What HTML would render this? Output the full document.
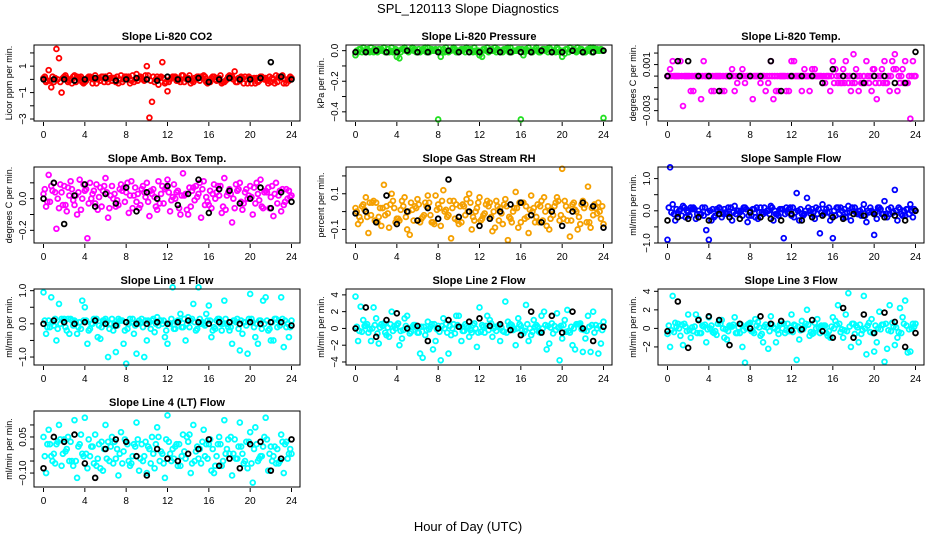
<!DOCTYPE html>
<html><head><meta charset="utf-8"><style>
body{margin:0;background:#fff}
svg{display:block;font-family:"Liberation Sans",sans-serif}
</style></head><body>
<svg id="c" width="936" height="540" viewBox="0 0 936 540">
<text x="468" y="13" text-anchor="middle" font-size="13">SPL_120113  Slope Diagnostics</text>
<text x="468" y="531" text-anchor="middle" font-size="13">Hour of Day (UTC)</text>
</svg>
<script>
const ns="http://www.w3.org/2000/svg";
const svg=document.getElementById('c');
// ---- data (A: t=i*0.5, B: t=i*0.5+0.25, C: t=i*0.5+0.125, D: t=i*0.5+0.375, K (black): t=i) ----
const co2A=[0.1,0.7,-0.2,1.6,0.2,-0.1,0.3,0.1,-0.2,0.2,0.3,-0.1,0.2,0.1,-0.2,0.3,0.2,-0.1,0.4,0.1,1.0,-1.7,0.2,1.3,-0.9,0.2,-0.1,0.3,0.1,-0.2,0.2,0.3,-0.1,0.2,0.1,-0.2,0.3,0.6,-0.1,0.2,0.1,-0.3,0.2,0.1,-0.2,0.3,0.2,-0.3,0.1];
const co2B=[-0.2,-0.6,2.3,-1.0,0.1,-0.3,0.2,-0.2,0.1,-0.3,0.0,0.2,-0.2,0.1,-0.3,0.0,0.2,-0.2,0.1,-0.1,-2.9,-0.2,0.1,-0.3,0.0,0.2,-0.2,0.1,-0.3,0.0,0.2,-0.2,0.1,-0.1,-0.3,0.0,0.2,-0.2,0.1,-0.3,0.0,-0.2,0.1,-0.3,0.0,0.2,-0.3,-0.1];
const co2C=[0.2,-0.1,0.1,-0.2,0.3,0.0,-0.2,0.2,-0.1,0.1,-0.3,0.2,0.0,-0.1,0.2,-0.2,0.1,0.3,-0.1,0.0,0.3,0.2,-0.4,0.1,-0.2,0.2,0.0,-0.2,0.3,0.1,-0.1,0.2,-0.2,0.0,0.3,-0.1,0.1,-0.2,0.2,0.0,-0.3,0.1,0.2,-0.1,0.1,-0.2,0.3,0.0];
const co2D=[-0.1,0.2,0.0,0.1,-0.2,0.2,0.1,-0.3,0.2,0.0,0.1,-0.2,0.3,0.1,0.0,0.2,-0.3,0.0,0.2,0.3,-0.1,0.0,0.2,-0.2,0.1,-0.1,0.3,0.0,-0.1,0.2,0.1,-0.3,0.2,0.1,-0.2,0.2,0.0,0.1,-0.3,0.2,0.1,-0.1,0.0,0.2,-0.3,0.1,0.0,0.2];
const co2K=[0.0,0.0,0.0,-0.1,0.0,0.1,0.1,-0.1,0.0,0.1,0.0,-0.1,0.2,0.0,0.0,0.1,-0.2,0.0,0.1,0.0,0.0,0.1,1.3,0.2,0.0];
const presA=[-0.03,0.01,-0.01,0.02,0.0,0.01,-0.01,0.02,-0.04,0.01,0.0,0.02,-0.01,0.01,0.02,0.0,-0.45,0.01,-0.01,0.02,0.0,0.01,-0.01,0.02,-0.03,0.01,0.0,0.02,-0.01,0.01,0.02,0.0,-0.45,0.01,-0.01,0.02,0.0,0.01,-0.01,0.02,-0.04,0.01,0.0,0.02,-0.01,0.01,0.02,0.0,-0.44];
const presB=[-0.01,0.02,0.0,-0.01,0.01,0.02,-0.01,0.0,-0.05,0.02,0.0,0.01,-0.01,0.02,0.0,0.01,-0.04,0.02,0.0,-0.01,0.01,0.02,0.0,-0.01,-0.04,0.02,0.0,0.01,-0.01,0.02,0.0,0.01,-0.03,0.02,0.0,-0.01,0.01,0.02,0.0,-0.01,-0.02,0.02,0.0,0.01,-0.01,0.02,0.0,0.01];
const presC=[0.0,-0.01,0.01,0.0,-0.01,0.0,0.01,-0.01,0.0,0.01,-0.01,0.0,0.01,0.0,-0.01,0.0,0.01,-0.01,0.0,0.01,0.0,-0.01,0.01,0.0,-0.01,0.0,0.01,-0.01,0.0,0.01,-0.01,0.0,0.01,0.0,-0.01,0.0,0.01,-0.01,0.0,0.01,0.0,-0.01,0.01,0.0,-0.01,0.0,0.01,0.0];
const presD=[0.01,0.0,-0.01,0.01,0.0,-0.01,0.0,0.01,-0.01,0.0,0.01,-0.01,0.0,-0.01,0.01,0.0,-0.01,0.0,0.01,-0.01,0.0,0.01,-0.01,0.0,0.01,-0.01,0.0,0.0,0.01,-0.01,0.0,0.01,-0.01,0.0,0.01,-0.01,0.0,0.01,-0.01,0.0,0.01,0.0,-0.01,0.01,0.0,-0.01,0.01,0.0];
const presK=[-0.01,-0.01,0.0,-0.01,-0.01,0.0,-0.01,-0.01,-0.01,0.0,-0.01,-0.01,-0.01,0.0,-0.01,-0.01,-0.01,-0.01,0.0,-0.01,-0.01,0.0,-0.01,-0.01,0.0];
const tmpA=[0,0.0013,0,-0.0026,0,-0.0013,0,0.0013,0,-0.0013,0,-0.0013,0,-0.0013,0,-0.0006,0,0,-0.0006,-0.0013,0.0013,-0.0013,0,-0.0013,0.0013,0,-0.0013,0,0.0006,0,-0.0006,0,0.0013,-0.0006,0.0006,-0.0006,0.0019,-0.0013,0,-0.0006,0.0006,-0.0006,0.0013,-0.0013,0.0019,-0.0006,0.0013,-0.0037,0];
const tmpB=[0.0006,0,0.0013,0,-0.0013,0,-0.002,0,-0.0013,0,-0.0013,0,0.0006,-0.0006,0.0006,0,-0.002,0,0,-0.0006,-0.002,-0.0013,0,-0.0013,0.0013,0,0.0006,-0.0013,0.0006,0,-0.0006,-0.0013,0.0006,-0.0006,0.0013,-0.0013,0.0006,-0.0006,0.0013,-0.0013,-0.002,0.0006,-0.0006,0.0013,-0.0013,0.0006,-0.0006,0.0013];
const tmpC=[0,0,0,0,0,0,0,0,0,0,0,0,0,0,0,0,0,0,0,0,0,0,0,0,0,0,0,0,0,0,0,0,-0.0006,0,-0.0006,0,-0.0006,0,-0.0006,0,-0.0006,0,-0.0006,0,0.0006,0,-0.0006,0];
const tmpD=[0,0,0,0,0,0,0,0,0,0,0,0,0,0,0,0,0,0,0,0,0,0,0,0,0,0,0,0,0,0,0,0,0,-0.0006,0,-0.0006,0,-0.0006,0,0.0006,0,-0.0006,0,0.0006,0,-0.0006,0,0];
const tmpK=[0,0.0013,0.0013,0,0,-0.0013,0,0,0,0,0.0013,-0.0013,0,0,0,-0.0006,0.0006,0,0,-0.0006,0,0,-0.0006,-0.0006,0.0021];
const ambA=[0.03,0.15,0.1,-0.06,0.08,0.02,-0.04,0.12,0.05,0.1,-0.03,0.07,0.13,0.02,-0.05,0.09,0.04,0.11,-0.02,0.06,0.1,0.03,-0.07,0.08,0.12,0.01,0.05,0.16,-0.1,0.07,0.03,0.11,-0.04,0.09,0.02,0.13,0.06,-0.06,0.1,0.04,0.08,-0.03,0.12,0.05,0.01,0.1,-0.08,0.06,0.02];
const ambB=[-0.05,0.08,-0.19,0.04,-0.08,0.06,-0.1,0.0,-0.25,0.03,-0.07,0.05,-0.12,0.0,-0.04,0.07,-0.09,0.02,-0.06,0.04,-0.11,0.01,-0.03,0.06,-0.08,0.0,-0.1,0.03,-0.05,0.08,-0.12,0.01,-0.06,0.04,-0.09,0.02,-0.15,0.05,-0.07,0.0,-0.1,0.03,-0.06,0.07,-0.11,0.02,-0.04,0.05];
const ambC=[0.06,-0.02,0.04,0.09,-0.04,0.11,0.02,-0.07,0.06,0.0,0.09,-0.05,0.04,0.08,-0.01,0.05,0.1,-0.06,0.03,0.08,-0.02,0.06,0.11,-0.03,0.04,0.09,-0.06,0.02,0.07,-0.01,0.1,-0.04,0.05,0.0,0.08,-0.07,0.03,0.09,-0.02,0.06,0.01,0.1,-0.05,0.04,0.08,-0.03,0.06,0.0];
const ambD=[-0.02,0.05,0.0,-0.04,0.07,-0.01,0.04,0.09,-0.03,0.05,0.01,0.08,-0.06,0.03,0.06,-0.02,0.02,0.07,-0.04,0.01,0.05,-0.05,0.03,0.07,-0.01,0.04,0.02,-0.07,0.05,0.01,0.06,-0.02,0.03,0.08,-0.05,0.04,0.0,0.06,-0.03,0.02,0.07,-0.01,0.04,-0.06,0.03,0.05,-0.02,0.01];
const ambK=[0.0,0.1,-0.16,0.02,0.09,-0.05,0.03,-0.03,0.07,-0.08,0.04,0.0,0.08,-0.04,0.03,0.12,-0.09,0.06,0.05,-0.03,0.0,0.07,-0.06,0.04,-0.02];
const rhA=[0.02,-0.05,0.08,-0.02,0.05,-0.08,0.03,0.1,-0.04,0.06,-0.1,0.01,0.07,-0.03,0.09,-0.06,0.04,0.12,-0.02,0.06,-0.07,0.03,0.1,-0.05,0.08,-0.01,0.05,-0.09,0.02,0.07,-0.04,0.11,-0.06,0.03,0.09,-0.03,0.06,-0.08,0.01,0.08,0.24,-0.05,0.04,-0.1,0.06,0.14,-0.02,0.05,-0.07];
const rhB=[-0.07,0.04,-0.12,0.06,-0.03,0.15,-0.09,0.02,-0.05,0.08,-0.13,0.03,-0.06,0.05,-0.02,0.09,-0.08,0.01,-0.15,0.04,-0.06,0.07,-0.1,0.02,-0.04,0.06,-0.11,0.03,-0.07,-0.16,0.0,-0.09,0.05,-0.12,0.02,-0.06,0.08,-0.1,0.03,-0.05,0.06,-0.14,0.01,-0.07,0.04,-0.09,0.02,-0.04];
const rhC=[0.0,0.03,-0.03,0.05,-0.06,0.02,-0.01,0.06,-0.04,0.03,0.0,-0.05,0.04,-0.02,0.05,-0.07,0.02,0.0,0.06,-0.04,0.03,-0.02,0.05,0.0,-0.05,0.04,-0.03,0.06,-0.01,0.03,-0.06,0.02,0.05,-0.03,0.0,0.04,-0.05,0.03,-0.02,0.06,-0.04,0.01,0.05,-0.03,0.02,-0.06,0.04,0.0];
const rhD=[-0.03,0.01,0.05,-0.05,0.02,-0.02,0.04,-0.06,0.01,-0.03,0.05,0.02,-0.04,0.03,-0.06,0.01,0.06,-0.03,0.02,-0.05,0.04,0.0,-0.03,0.05,-0.02,0.03,0.0,-0.05,0.04,-0.03,0.02,0.05,-0.04,0.01,-0.06,0.03,0.0,-0.04,0.05,-0.02,0.03,-0.05,0.0,0.04,-0.06,0.02,-0.01,0.03];
const rhK=[-0.01,0.0,-0.06,0.09,-0.07,0.0,-0.05,0.02,-0.04,0.18,-0.03,0.0,-0.08,-0.04,0.0,0.04,0.05,-0.02,-0.06,0.0,-0.08,0.0,0.05,0.03,-0.09];
const smpA=[-0.9,0.2,-0.1,0.15,-0.05,0.1,0.0,-0.15,-0.9,-0.2,0.1,0.05,-0.1,0.15,-0.05,0.1,0.0,-0.2,0.1,-0.05,0.15,-0.1,0.05,0.1,-0.15,0.55,-0.1,0.4,0.05,-0.1,0.2,-0.05,-0.85,0.1,-0.2,0.15,0.0,-0.1,0.2,-0.05,-0.75,0.1,0.3,-0.1,0.65,0.05,-0.15,0.2,0.0];
const smpB=[1.35,-0.3,0.05,-0.2,0.1,-0.25,-0.1,-0.6,-0.3,0.05,-0.2,-0.1,-0.3,0.0,-0.15,-0.35,0.05,-0.25,-0.1,0.0,-0.3,-0.15,-0.85,0.05,-0.2,-0.3,-0.1,0.0,-0.25,-0.7,-0.05,-0.3,-0.15,0.1,-0.2,-0.3,-0.05,-0.15,-0.35,0.0,-0.25,-0.1,-0.2,-0.05,-0.3,-0.15,0.05,-0.2];
const smpC=[0.1,-0.1,0.0,0.1,-0.15,0.05,-0.1,0.1,0.0,-0.15,0.05,-0.05,0.1,-0.1,0.0,0.05,-0.15,0.1,-0.05,0.0,0.1,-0.1,0.05,-0.05,0.1,0.0,-0.15,0.1,-0.05,0.05,-0.1,0.1,0.0,-0.1,0.05,-0.05,0.1,0.0,-0.15,0.1,-0.05,0.05,-0.1,0.1,0.0,-0.1,0.05,0.0];
const smpD=[-0.05,0.05,-0.15,0.0,0.05,-0.1,0.1,-0.05,0.05,0.0,-0.1,0.1,-0.05,0.0,0.1,-0.15,0.05,-0.05,0.1,-0.1,0.0,0.05,-0.1,0.1,-0.05,0.05,0.0,-0.1,0.1,-0.05,0.05,-0.15,0.1,0.0,-0.05,0.1,-0.1,0.05,0.0,-0.05,0.1,-0.1,0.05,-0.05,0.1,0.0,-0.1,0.05];
const smpK=[-0.3,-0.2,-0.25,-0.2,-0.3,-0.1,-0.2,-0.25,-0.05,-0.2,-0.25,-0.3,-0.1,-0.3,-0.2,-0.15,-0.2,-0.25,-0.1,-0.15,-0.1,-0.2,-0.15,-0.3,0.0];
const l1A=[0.95,0.1,-0.05,0.6,0.15,-0.3,0.1,0.05,0.5,-0.15,0.1,-0.45,0.15,0.0,-0.85,0.1,-1.2,0.05,-0.9,0.15,-0.5,0.1,0.2,0.0,-0.6,1.1,0.1,-0.1,0.2,0.6,1.1,0.0,0.55,-0.1,0.15,0.7,-0.2,0.1,-0.8,0.05,0.9,-0.4,0.1,0.8,-0.5,0.15,0.8,-0.1,0.1];
const l1B=[-0.3,0.8,-0.5,0.15,-0.2,0.1,-0.3,0.7,-0.6,0.0,-0.4,0.1,-1.0,-0.2,0.15,-0.6,0.0,-0.3,0.1,-1.0,0.05,-0.25,0.1,-0.4,0.0,-0.15,0.3,-0.5,0.1,-0.2,0.0,0.3,-0.4,0.1,-0.2,0.0,-0.6,0.15,-0.3,-0.9,0.05,-0.6,0.7,-0.2,-0.5,0.1,-0.7,-0.4];
const l1C=[0.1,-0.1,0.15,0.0,-0.1,0.15,0.05,-0.15,0.1,0.0,0.15,-0.1,0.05,0.15,-0.05,0.1,-0.15,0.15,0.0,-0.1,0.1,0.15,-0.05,0.1,0.0,-0.15,0.1,0.15,-0.1,0.05,0.15,-0.05,0.1,-0.15,0.0,0.15,-0.1,0.05,0.1,-0.05,0.15,0.0,-0.15,0.1,0.05,-0.1,0.15,0.0];
const l1D=[-0.1,0.05,-0.15,0.1,0.15,-0.05,-0.1,0.1,-0.2,0.15,-0.05,0.1,-0.15,0.0,0.1,-0.2,0.15,-0.05,0.05,0.1,-0.15,0.0,0.1,-0.2,0.15,0.05,-0.1,0.0,0.15,-0.15,0.05,0.1,-0.2,0.15,0.0,-0.1,0.1,-0.15,0.05,0.15,-0.1,0.1,0.0,-0.15,0.15,-0.05,0.1,-0.1];
const l1K=[0.0,0.1,0.05,0.0,0.05,0.1,0.0,-0.05,0.05,0.0,0.0,0.05,0.0,0.05,0.1,0.05,0.0,0.05,0.05,0.0,0.05,0.0,0.05,0.05,-0.05];
const l2A=[3.8,2.6,0.3,-1.5,1.2,0.5,-0.8,2.0,0.4,-1.2,1.5,0.2,-0.5,-3.5,0.8,-2.5,0.3,1.2,-3.0,0.5,1.5,-0.3,-1.0,0.6,2.5,-0.5,1.0,0.2,-1.5,3.2,0.5,-2.0,0.3,2.8,-0.8,0.4,1.5,-2.5,0.6,1.8,-1.2,2.2,-2.0,0.5,-2.8,1.5,2.0,-3.0,0.8];
const l2B=[-1.5,1.0,-0.5,2.5,-1.8,0.6,-1.0,0.3,-2.0,1.2,-0.6,0.4,-3.0,-0.8,0.2,-1.5,-3.8,0.5,-0.8,1.5,-1.5,0.3,-0.5,-2.2,0.4,1.5,-1.0,0.2,-0.3,0.8,-0.2,1.2,-0.6,-1.5,1.0,-0.4,2.0,-1.8,0.3,-3.8,1.0,-0.5,-2.5,0.6,-1.2,-2.8,0.4,-1.8];
const l2C=[0.2,-0.4,0.5,0.0,-0.6,0.3,0.1,-0.3,0.6,-0.2,0.0,0.4,-0.5,0.2,-0.1,0.5,-0.4,0.0,0.3,-0.6,0.2,0.5,-0.2,0.0,-0.4,0.3,0.6,-0.3,0.1,-0.5,0.4,0.0,-0.2,0.5,-0.4,0.2,0.0,0.3,-0.6,0.1,0.4,-0.3,0.0,0.5,-0.2,0.2,-0.5,0.3];
const l2D=[-0.3,0.3,-0.1,0.4,0.1,-0.5,0.5,0.0,-0.3,0.3,-0.4,0.1,0.2,-0.2,0.5,-0.1,0.3,-0.5,0.0,0.4,-0.3,0.1,0.4,-0.5,0.2,-0.2,0.0,0.4,-0.4,0.3,-0.1,0.5,-0.3,0.0,0.2,-0.5,0.4,0.1,-0.2,0.3,-0.4,0.2,0.5,-0.1,-0.3,0.4,0.0,-0.2];
const l2K=[0.0,2.5,-1.0,1.0,1.8,0.0,0.3,-1.5,0.0,1.0,0.2,0.8,1.2,0.3,0.5,-0.2,-0.8,2.0,-0.5,1.5,-0.5,2.0,0.0,-1.5,0.2];
const l3A=[-0.6,3.5,0.5,-1.8,1.5,-0.3,1.0,0.2,1.2,-0.5,0.8,-1.0,0.3,1.2,-0.5,-3.7,0.6,1.0,-0.8,0.4,1.3,-1.5,0.5,-0.2,1.5,-3.4,0.8,2.0,-0.6,1.0,0.2,-0.8,1.2,2.5,-1.0,3.8,0.5,-1.5,3.5,0.6,-2.5,1.8,-3.6,2.5,-1.8,2.2,3.0,-2.5,0.5];
const l3B=[-2.0,0.6,-0.8,0.2,-1.0,1.5,-0.5,-1.5,0.3,-0.7,0.9,-1.2,0.2,-0.5,-2.0,0.4,-0.3,0.7,-1.5,-2.2,0.1,-0.6,0.5,-0.3,0.4,-1.2,0.2,-0.8,0.6,-0.5,0.3,-1.0,0.8,-0.4,1.5,-2.0,0.3,-0.6,-2.8,1.0,-1.5,0.4,-2.2,0.6,-1.0,1.2,-2.6,0.5];
const l3C=[0.3,-0.4,0.0,0.5,-0.2,0.2,-0.5,0.4,0.0,-0.3,0.5,-0.1,0.2,-0.5,0.4,0.0,-0.3,0.3,-0.6,0.1,0.4,-0.2,0.0,0.5,-0.4,0.2,-0.1,0.4,-0.5,0.1,0.3,-0.3,0.0,0.5,-0.2,0.2,-0.6,0.4,0.0,-0.4,0.3,-0.1,0.5,-0.3,0.1,-0.5,0.3,0.0];
const l3D=[-0.2,0.2,0.4,-0.3,0.1,-0.5,0.3,-0.1,-0.4,0.5,0.0,-0.3,0.4,0.1,-0.2,0.5,-0.5,0.1,0.2,-0.3,0.0,0.4,-0.5,0.1,0.3,-0.2,0.5,-0.4,0.0,0.3,-0.5,0.2,0.4,-0.1,-0.3,0.5,0.1,-0.2,0.3,-0.5,0.0,0.4,-0.2,0.2,-0.4,0.5,-0.1,0.2];
const l3K=[-0.3,2.9,-2.1,0.9,1.3,0.9,-1.8,0.5,0.0,1.3,0.5,0.8,-0.2,-0.1,0.9,-0.3,-1.0,2.2,-1.0,1.5,-0.5,1.7,0.7,-2.0,-0.5];
const l4A=[0.05,0.08,-0.02,0.1,0.04,-0.05,0.12,0.02,0.13,-0.03,0.06,-0.08,0.1,0.01,-0.04,0.07,0.03,-0.06,0.11,0.02,-0.1,0.05,0.09,-0.02,0.14,0.0,-0.07,0.06,0.03,0.1,-0.04,0.08,0.02,-0.1,0.05,0.12,-0.02,0.04,0.11,-0.05,0.07,0.09,-0.03,0.13,0.01,-0.06,0.06,0.03,-0.02];
const l4B=[-0.1,-0.03,0.02,-0.07,0.0,-0.05,-0.12,-0.02,-0.08,0.01,-0.04,-0.09,0.03,-0.06,-0.11,-0.01,-0.05,0.02,-0.09,-0.03,0.0,-0.08,-0.05,-0.12,-0.02,0.01,-0.07,-0.04,-0.1,-0.01,-0.06,0.02,-0.09,-0.03,-0.07,0.0,-0.11,-0.04,-0.02,-0.08,-0.14,-0.05,0.01,-0.09,-0.03,-0.06,-0.1,-0.02];
const l4C=[-0.03,0.02,-0.06,0.04,-0.01,0.03,-0.05,0.06,-0.02,0.01,-0.07,0.03,-0.04,0.05,0.0,-0.06,0.02,-0.03,0.04,-0.05,0.01,-0.02,0.05,-0.06,0.03,-0.04,0.02,-0.01,0.06,-0.05,0.0,-0.03,0.04,-0.07,0.02,-0.02,0.05,-0.04,0.01,0.03,-0.06,0.02,-0.03,0.04,-0.05,0.0,0.03,-0.04];
const l4D=[0.02,-0.05,0.03,-0.02,0.05,-0.07,0.01,-0.03,0.04,-0.06,0.02,0.0,-0.05,0.03,-0.02,0.04,-0.07,0.01,-0.04,0.03,-0.06,0.02,-0.01,0.04,-0.05,0.02,-0.03,0.05,-0.06,0.01,0.03,-0.04,0.0,0.02,-0.05,0.04,-0.02,0.01,-0.06,0.03,0.0,-0.04,0.05,-0.02,0.01,-0.05,0.02,0.0];
const l4K=[-0.08,0.05,0.03,0.06,-0.06,-0.12,0.0,0.04,0.03,-0.03,-0.11,0.0,-0.04,-0.05,-0.02,0.0,0.04,-0.07,-0.04,-0.08,0.02,0.03,-0.09,-0.04,0.04];
const xTicks=[0,4,8,12,16,20,24];
const titles=["Slope Li-820 CO2","Slope Li-820 Pressure","Slope Li-820 Temp.","Slope Amb. Box Temp.","Slope Gas Stream RH","Slope Sample Flow","Slope Line 1 Flow","Slope Line 2 Flow","Slope Line 3 Flow","Slope Line 4 (LT) Flow"];
const yTitles=["Licor ppm per min.","kPa per min.","degrees C per min.","degrees C per min.","percent per min.","ml/min per min.","ml/min per min.","ml/min per min.","ml/min per min.","ml/min per min."];
const panels=[
 {a:co2A,b:co2B,c:co2C,d:co2D,k:co2K,col:"#ff0000",dom:[-3.15,2.6],ticks:[-3,-2,-1,0,1,2],labels:[-3,-1,1],fmt:v=>String(v)},
 {a:presA,b:presB,c:presC,d:presD,k:presK,col:"#22e022",dom:[-0.46,0.037],ticks:[-0.4,-0.3,-0.2,-0.1,0],labels:[-0.4,-0.2,0],fmt:v=>v.toFixed(1)},
 {a:tmpA,b:tmpB,c:tmpC,d:tmpD,k:tmpK,col:"#ff00ff",dom:[-0.0039,0.0027],ticks:[-0.003,-0.002,-0.001,0,0.001,0.002],labels:[-0.003,0.001],fmt:v=>v.toFixed(3)},
 {a:ambA,b:ambB,c:ambC,d:ambD,k:ambK,col:"#ff00ff",dom:[-0.28,0.2],ticks:[-0.2,-0.1,0,0.1],labels:[-0.2,0],fmt:v=>v.toFixed(1)},
 {a:rhA,b:rhB,c:rhC,d:rhD,k:rhK,col:"#f5a000",dom:[-0.176,0.25],ticks:[-0.1,0,0.1,0.2],labels:[-0.1,0.1],fmt:v=>v.toFixed(1)},
 {a:smpA,b:smpB,c:smpC,d:smpD,k:smpK,col:"#0000ff",dom:[-1.0,1.36],ticks:[-1,-0.5,0,0.5,1],labels:[-1,0,1],fmt:v=>v.toFixed(1)},
 {a:l1A,b:l1B,c:l1C,d:l1D,k:l1K,col:"#00ffff",dom:[-1.24,1.05],ticks:[-1,-0.5,0,0.5,1],labels:[-1,0,1],fmt:v=>v.toFixed(1)},
 {a:l2A,b:l2B,c:l2C,d:l2D,k:l2K,col:"#00ffff",dom:[-4.36,4.7],ticks:[-4,-2,0,2,4],labels:[-4,-2,0,2,4],fmt:v=>String(v)},
 {a:l3A,b:l3B,c:l3C,d:l3D,k:l3K,col:"#00ffff",dom:[-3.95,4.25],ticks:[-2,0,2,4],labels:[-2,0,2,4],fmt:v=>String(v)},
 {a:l4A,b:l4B,c:l4C,d:l4D,k:l4K,col:"#00ffff",dom:[-0.158,0.158],ticks:[-0.1,-0.05,0,0.05,0.1],labels:[-0.1,0.05],fmt:v=>v.toFixed(2)}
];
const colLeft=[34,346,658], rowTop=[45,167,289,411], W=266, H=76;
function mk(tag,attrs,parent){const e=document.createElementNS(ns,tag);for(const k in attrs)e.setAttribute(k,attrs[k]);(parent||svg).appendChild(e);return e;}
panels.forEach((p,i)=>{
  const L=colLeft[i%3], T=rowTop[Math.floor(i/3)];
  const g=mk('g',{});
  
  
  const xs=t=>L+9.5+t*248/24;
  const ys=v=>T+H-(v-p.dom[0])/(p.dom[1]-p.dom[0])*H;
  const tt=mk('text',{x:L+W/2,y:T-5,'text-anchor':'middle','font-size':11,'font-weight':'bold'},g);
  tt.textContent=titles[i];
  
  
  xTicks.forEach(t=>{
    mk('line',{x1:xs(t),x2:xs(t),y1:T+H+1,y2:T+H+5,stroke:'#000'},g);
    const lb=mk('text',{x:xs(t),y:T+H+17,'text-anchor':'middle','font-size':10},g);
    lb.textContent=t;
    
    
  });
  p.ticks.forEach(v=>mk('line',{x1:L-4,x2:L,y1:ys(v),y2:ys(v),stroke:'#000'},g));
  p.labels.forEach(v=>{
    const y=ys(v);
    const lb=mk('text',{x:L-8,y:y,'text-anchor':'middle','font-size':10,transform:`rotate(-90 ${L-8} ${y})`},g);
    lb.textContent=p.fmt(v).replace('-','\u2212');
    
    
  });
  const yt=mk('text',{x:L-22,y:T+H/2,'text-anchor':'middle','font-size':9,transform:`rotate(-90 ${L-22} ${T+H/2})`},g);
  yt.textContent=yTitles[i];
  
  
  const pts=mk('g',{fill:'none',stroke:p.col,'stroke-width':1.8},g);
  
  
  p.a.forEach((v,j)=>mk('circle',{cx:xs(j*0.5),cy:ys(v),r:2.4},pts));
  p.b.forEach((v,j)=>mk('circle',{cx:xs(j*0.5+0.25),cy:ys(v),r:2.4},pts));
  p.c.forEach((v,j)=>mk('circle',{cx:xs(j*0.5+0.125),cy:ys(v),r:2.4},pts));
  p.d.forEach((v,j)=>mk('circle',{cx:xs(j*0.5+0.375),cy:ys(v),r:2.4},pts));
  const kp=mk('g',{fill:'none',stroke:'#000','stroke-width':1.8},g);
  
  
  p.k.forEach((v,j)=>mk('circle',{cx:xs(j),cy:ys(v),r:2.4},kp));
  const bx=mk('rect',{x:L,y:T,width:W,height:H,fill:'none',stroke:'#000','stroke-width':1},g);
  
  
});
</script>
</body></html>
